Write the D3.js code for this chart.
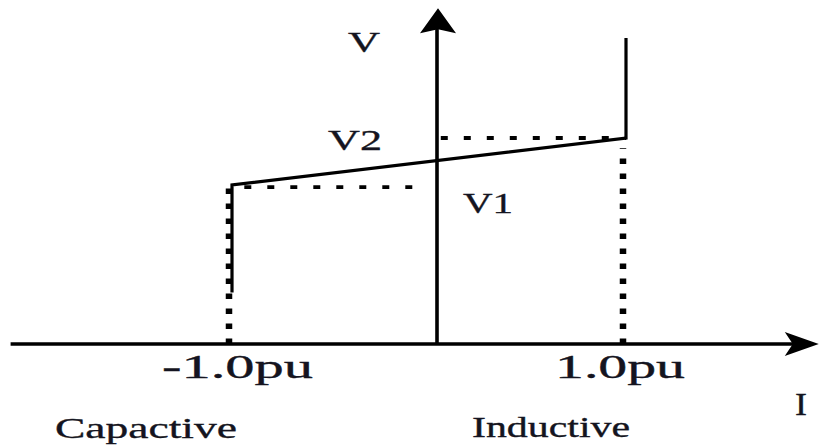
<!DOCTYPE html>
<html>
<head>
<meta charset="utf-8">
<script src="https://cdn.jsdelivr.net/npm/d3@7"></script>
<style>
html,body{margin:0;padding:0;background:#fff;}
svg{display:block;}
text{font-family:"Liberation Serif","Times New Roman",serif;fill:#141420;stroke:#141420;stroke-width:0.35px;}
</style>
</head>
<body>
<svg id="chart" width="819" height="445"></svg>
<script>
// ---- data ----
const currentTicks = [-1, 1];
const tickLabels = ["-1.0pu", "1.0pu"];
const charI = [-1, -1, 1, 1];            // characteristic current (pu)
const charV = [0.25, 0.772, 1.0, 1.485]; // characteristic voltage (relative to V2)
const V1 = 0.762;
const V2 = 1.0;
const v1GuideI = [-1, -0.12];
const v2GuideI = [0, 1];
const axisI = [-2.08, 2.02];
const axisV = [0, 1.63];
const regionLabels = ["Capactive", "Inductive"];

const svg = d3.select("#chart");
const x = d3.scaleLinear().domain([-1, 0, 1]).range([232, 437, 626]);
const y = d3.scaleLinear().domain([0, 1]).range([344, 138]);
const ink = "#000";

// x axis
svg.append("line")
  .attr("x1", x(axisI[0])).attr("x2", x(axisI[1]) - 20)
  .attr("y1", y(0)).attr("y2", y(0))
  .attr("stroke", ink).attr("stroke-width", 3.4);
{
  const tx = x(axisI[1]), ty = y(0);
  svg.append("path")
    .attr("d", `M${tx},${ty} L${tx-34},${ty-12} L${tx-26},${ty} L${tx-34},${ty+12} Z`)
    .attr("fill", ink);
}
// y axis
svg.append("line")
  .attr("x1", x(0)).attr("x2", x(0))
  .attr("y1", y(axisV[0])).attr("y2", y(axisV[1]) + 20)
  .attr("stroke", ink).attr("stroke-width", 3.6);
{
  const tx = x(0) + 1, ty = y(axisV[1]);
  svg.append("path")
    .attr("d", `M${tx},${ty} L${tx+18},${ty+25} L${tx},${ty+21} L${tx-18},${ty+25} Z`)
    .attr("fill", ink);
}

// dotted guides
const dotV = (iv, v0, v1) => svg.append("line")
  .attr("x1", x(iv) - 3).attr("x2", x(iv) - 3)
  .attr("y1", y(v0)).attr("y2", y(v1))
  .attr("stroke", ink).attr("stroke-width", 6.5)
  .attr("stroke-dasharray", "5.5,9.5");
dotV(currentTicks[0], 0, V1);
dotV(currentTicks[1], 0, V2 - 0.05);

const dotH = (i0, i1, v) => svg.append("line")
  .attr("x1", x(i0)).attr("x2", x(i1))
  .attr("y1", y(v)).attr("y2", y(v))
  .attr("stroke", ink).attr("stroke-width", 3.8)
  .attr("stroke-dasharray", "7,16");
dotH(v1GuideI[0] + 0.06, v1GuideI[1], V1);
dotH(v2GuideI[0] + 0.02, v2GuideI[1], V2);

// characteristic
const pts = charI.map((d, i) => [d, charV[i]]);
svg.append("path")
  .attr("d", d3.line().x(d => x(d[0])).y(d => y(d[1]))(pts))
  .attr("fill", "none").attr("stroke", ink)
  .attr("stroke-width", 3.2).attr("stroke-linejoin", "miter");

// text helper
function label(txt, x0, x1, base, size) {
  svg.append("text")
    .attr("x", x0).attr("y", base)
    .attr("font-size", size)
    .attr("textLength", x1 - x0)
    .attr("lengthAdjust", "spacingAndGlyphs")
    .text(txt);
}
// tick labels
label(tickLabels[0], x(currentTicks[0]) - 70, x(currentTicks[0]) + 81, 378, 33);
label(tickLabels[1], x(currentTicks[1]) - 71, x(currentTicks[1]) + 59, 378, 33);
// axis / level labels
label("V", 348, 380, 52, 30);
label("V2", 328, 382, 150, 30);
label("V1", 463, 513, 213, 30);
label("I", 795, 807, 415, 31);
label(regionLabels[0], 55, 237, 438, 30);
label(regionLabels[1], 472, 630, 437, 30);
</script>
</body>
</html>
